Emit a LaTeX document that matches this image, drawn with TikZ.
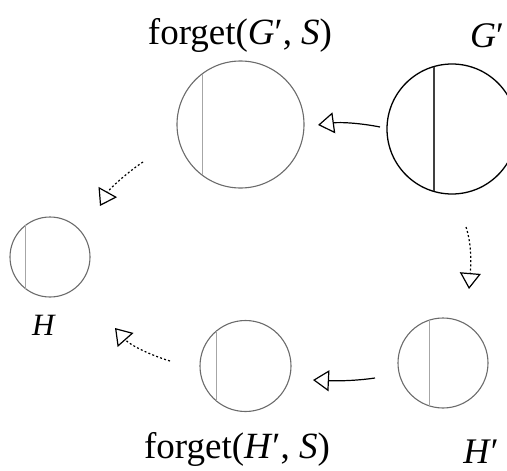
\documentclass[tikz,border=0pt]{standalone}
\usepackage{fontspec}
\setmainfont{Liberation Serif}
\usetikzlibrary{arrows.meta}
\begin{document}
\begin{tikzpicture}[x=1pt,y=-1pt,
  graphmain/.style={circle,draw=black,line width=1.3pt,inner sep=0pt,outer sep=0pt},
  graphsub/.style={circle,draw=black!58,line width=1.1pt,inner sep=0pt,outer sep=0pt},
  chordmain/.style={draw=black!75,line width=1.5pt},
  chordsub/.style={draw=black!35,line width=1.1pt},
  bigl/.style={inner sep=0pt,anchor=base,font=\fontsize{37}{40}\selectfont},
  midl/.style={inner sep=0pt,anchor=base,font=\fontsize{36}{40}\selectfont},
  smalll/.style={inner sep=0pt,anchor=base,font=\fontsize{31}{34}\selectfont},
  solidarrow/.style={line width=1.2pt,-{Triangle[open,length=16pt,width=21pt,line width=1.2pt]}},
  dasharrow/.style={line width=1.2pt,dash pattern=on 2pt off 2.2pt,-{Triangle[open,length=16pt,width=21pt,line width=1.2pt]}}
]
\useasboundingbox (0,0) rectangle (507,471);
% circles
\node[graphmain,minimum size=130pt] (G) at (452,129) {};
\draw[chordmain] (G.106) -- (G.254);
\node[graphsub,minimum size=127pt] (FG) at (240.5,124.5) {};
\draw[chordsub] (FG.127) -- (FG.233);
\node[graphsub,minimum size=80pt] (H) at (50,257) {};
\draw[chordsub] (H.127) -- (H.233);
\node[graphsub,minimum size=90pt] (HP) at (443,363) {};
\draw[chordsub] (HP.108) -- (HP.252);
\node[graphsub,minimum size=91pt] (FH) at (245.5,366) {};
\draw[chordsub] (FH.130) -- (FH.230);
% labels
\node[bigl] (lFG) at (240,45) {forget(\textit{G}′, \textit{S})};
\node[midl] (lG) at (487,48) {\textit{G}′};
\node[smalll] (lH) at (44,335) {\textit{H}};
\node[midl] (lHP) at (481,463) {\textit{H}′};
\node[bigl] (lFH) at (237,458) {forget(\textit{H}′, \textit{S})};
% arrow end points
\coordinate (a1s) at (380,127);
\coordinate (a1e) at (318,125);
\coordinate (a2s) at (375,378);
\coordinate (a2e) at (313,380);
\coordinate (d1s) at (143,162);
\coordinate (d1e) at (100,206);
\coordinate (d2s) at (466,227);
\coordinate (d2e) at (469,289);
\coordinate (d3s) at (170,361);
\coordinate (d3e) at (115,328);
% arrows
\draw[solidarrow] (a1s) .. controls (360,123) and (340,122) .. (a1e);
\draw[solidarrow] (a2s) .. controls (355,381) and (335,381) .. (a2e);
\draw[dasharrow] (d1s) .. controls (128,172) and (110,188) .. (d1e);
\draw[dasharrow] (d2s) .. controls (472,245) and (471,265) .. (d2e);
\draw[dasharrow] (d3s) .. controls (150,355) and (130,345) .. (d3e);
\end{tikzpicture}
\end{document}
